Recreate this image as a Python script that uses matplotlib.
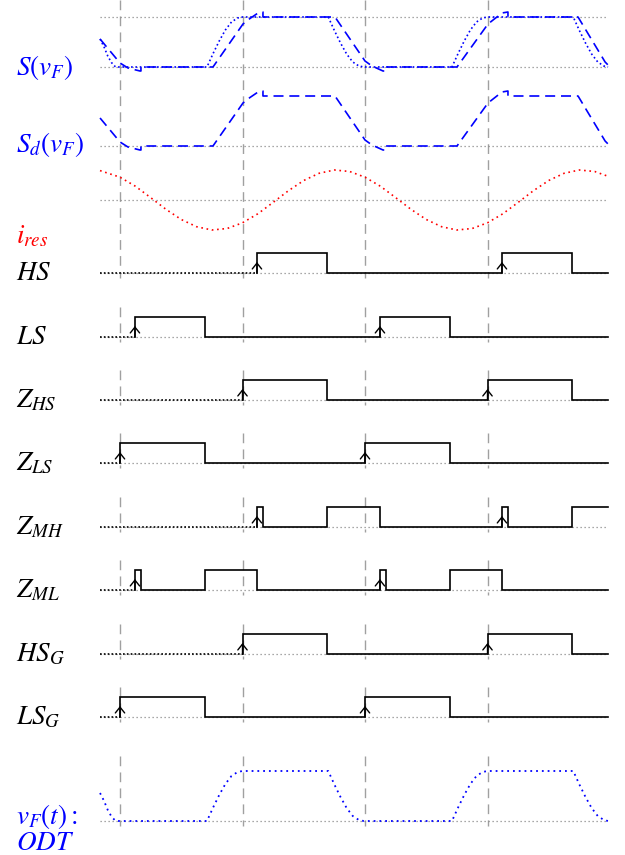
import matplotlib
matplotlib.use("Agg")
import matplotlib.pyplot as plt

plt.rcParams['mathtext.fontset'] = 'stix'
plt.rcParams['font.family'] = ['STIXGeneral', 'DejaVu Serif']

# ---------------- data (time in half-periods) ----------------
t_start = -0.163
t_end = 3.984
marks = [0.0, 1.0, 2.0, 3.0]

# resonant voltage v_F (normalised 0..1)
vf_t = [-0.163, -0.13, -0.10, -0.07, -0.04, -0.033,
        0.71, 0.76, 0.81, 0.86, 0.91, 0.96, 1.00,
        1.70, 1.75, 1.80, 1.85, 1.90, 1.95, 1.99,
        2.71, 2.76, 2.81, 2.86, 2.91, 2.96, 3.00,
        3.70, 3.75, 3.80, 3.85, 3.90, 3.95, 3.984]
vf_v = [0.56, 0.40, 0.22, 0.09, 0.01, 0.0,
        0.0, 0.27, 0.52, 0.74, 0.90, 0.98, 1.0,
        1.0, 0.73, 0.48, 0.26, 0.10, 0.02, 0.0,
        0.0, 0.27, 0.52, 0.74, 0.90, 0.98, 1.0,
        1.0, 0.73, 0.48, 0.26, 0.10, 0.02, 0.0]

# sensed / digitised voltage S_d(v_F) (normalised 0..1)
sd_t = [-0.163, 0.0, 0.065, 0.163, 0.171, 0.171,
        0.759, 1.004, 1.061, 1.127, 1.167, 1.167,
        1.755, 2.0, 2.057, 2.147, 2.171, 2.171,
        2.751, 3.004, 3.061, 3.118, 3.167, 3.167,
        3.739, 3.96, 3.984]
sd_v = [0.56, 0.08, -0.02, -0.08, -0.08, 0.0,
        0.0, 0.86, 0.97, 1.08, 1.10, 1.0,
        1.0, 0.12, 0.02, -0.08, -0.08, 0.0,
        0.0, 0.86, 0.97, 1.08, 1.10, 1.0,
        1.0, 0.10, 0.04]

# resonant current i_res (normalised -1..1)
ires_t = [-0.163, 0.0, 0.125, 0.25, 0.375, 0.5, 0.625, 0.75, 0.875,
          1.0, 1.125, 1.25, 1.375, 1.5, 1.625, 1.75, 1.875,
          2.0, 2.125, 2.25, 2.375, 2.5, 2.625, 2.75, 2.875,
          3.0, 3.125, 3.25, 3.375, 3.5, 3.625, 3.75, 3.875, 3.984]
ires_v = [0.98, 0.76, 0.46, 0.08, -0.31, -0.65, -0.89, -1.0, -0.95,
          -0.76, -0.46, -0.08, 0.31, 0.65, 0.89, 1.0, 0.95,
          0.76, 0.46, 0.08, -0.31, -0.65, -0.89, -1.0, -0.95,
          -0.76, -0.46, -0.08, 0.31, 0.65, 0.89, 1.0, 0.95, 0.79]

# digital signals: high intervals (rise, fall) and arrow-marked rising edges
sig_names = [r'$HS$', r'$LS$', r'$Z_{HS}$', r'$Z_{LS}$', r'$Z_{MH}$',
             r'$Z_{ML}$', r'$HS_G$', r'$LS_G$']
sig_high = [
    [(1.118, 1.69), (3.118, 3.69)],
    [(0.122, 0.694), (2.122, 2.694)],
    [(1.0, 1.69), (3.0, 3.69)],
    [(0.0, 0.694), (2.0, 2.694)],
    [(1.118, 1.167), (1.69, 2.122), (3.118, 3.167), (3.69, 3.984)],
    [(0.122, 0.171), (0.694, 1.118), (2.122, 2.171), (2.694, 3.118)],
    [(1.0, 1.69), (3.0, 3.69)],
    [(0.0, 0.694), (2.0, 2.694)],
]
sig_arrows = [
    [1.118, 3.118],
    [0.122, 2.122],
    [1.0, 3.0],
    [0.0, 2.0],
    [1.118, 3.118],
    [0.122, 2.122],
    [1.0, 3.0],
    [0.0, 2.0],
]

# ---------------- layout ----------------
W, H = 625, 855
PX = 122.5        # pixels per half period
X0 = 120          # pixel of t = 0

fig = plt.figure(figsize=(W / 100, H / 100), dpi=100)
ax = fig.add_axes([0, 0, 1, 1])
ax.set_xlim(-X0 / PX, (W - X0) / PX)
ax.set_ylim(H, 0)
ax.axis('off')

GRAY = '#8c8c8c'
VGRAY = '#a0a0a0'
BLUE = '#0000ff'
RED = '#ff0000'
base_ls = (0, (1, 2.2))
vdash = (0, (7, 4.5))


def base(y):
    ax.plot([t_start, t_end], [y, y], color=GRAY, lw=0.9, ls=base_ls, zorder=1)


def vlines(y0, y1):
    for m in marks:
        ax.plot([m, m], [y0, y1], color=VGRAY, lw=1.0, ls=vdash, zorder=0)


def label(text, ypx, color='black'):
    fig.text(16 / W, 1 - ypx / H, text, color=color, fontsize=19.5,
             ha='left', va='baseline')


# --- top analogue section ---
vlines(0, 278)

# S(v_F)
s_lo, s_hi = 67, 17
base(s_lo)
base(s_hi)
ax.plot(vf_t, [s_lo - v * (s_lo - s_hi) for v in vf_v], color=BLUE, lw=1.2,
        ls=(0, (1, 1.6)), zorder=3)
ax.plot(sd_t, [s_lo - v * (s_lo - s_hi) for v in sd_v], color=BLUE, lw=1.2,
        ls=(0, (6, 3.5)), zorder=3)
label(r'$S(v_F)$', 75, BLUE)

# S_d(v_F)
d_lo, d_hi = 146, 96
base(d_lo)
ax.plot(sd_t, [d_lo - v * (d_lo - d_hi) for v in sd_v], color=BLUE, lw=1.2,
        ls=(0, (6, 3.5)), zorder=3)
label(r'$S_d(v_F)$', 152, BLUE)

# i_res
i_zero, i_amp = 200, 30
base(i_zero)
ax.plot(ires_t, [i_zero - v * i_amp for v in ires_v], color=RED, lw=1.2,
        ls=(0, (1, 2.2)), zorder=3)
label(r'$i_{res}$', 243, RED)

# --- digital section ---
row_low = [273, 337, 400, 463, 527, 590, 654, 717]
swing = 20
for k, (name, highs, arrows) in enumerate(zip(sig_names, sig_high, sig_arrows)):
    lo = row_low[k]
    hi = lo - swing
    if k > 0:
        vlines(lo - 30, lo + 5)
    base(lo)
    first = highs[0][0]
    ax.plot([t_start, first], [lo, lo], color='black', lw=1.2,
            ls=(0, (1, 1.3)), zorder=2)
    xs, ys = [first], [lo]
    for r, f in highs:
        xs += [r, r, f, f]
        ys += [lo, hi, hi, lo]
    if xs[-1] < t_end:
        xs.append(t_end)
        ys.append(lo)
    else:
        ys[-1] = hi
    ax.plot(xs, ys, color='black', lw=1.2, solid_joinstyle='miter', zorder=3)
    for a in arrows:
        ax.annotate('', xy=(a, lo - 11), xytext=(a, lo),
                    arrowprops=dict(arrowstyle='->,head_length=0.35,head_width=0.28',
                                    lw=1.0, color='black',
                                    shrinkA=0, shrinkB=0, mutation_scale=12),
                    zorder=4)
    label(name, lo + 7)

# --- v_F(t) : ODT ---
v_lo, v_hi = 821, 771
vlines(756, 826)
base(v_lo)
ax.plot(vf_t, [v_lo - v * (v_lo - v_hi) for v in vf_v], color=BLUE, lw=1.3,
        ls=(0, (1, 2.2)), zorder=3)
label(r'$v_F(t):$', 824, BLUE)
label(r'$ODT$', 850, BLUE)

fig.savefig('out.png', dpi=100)
